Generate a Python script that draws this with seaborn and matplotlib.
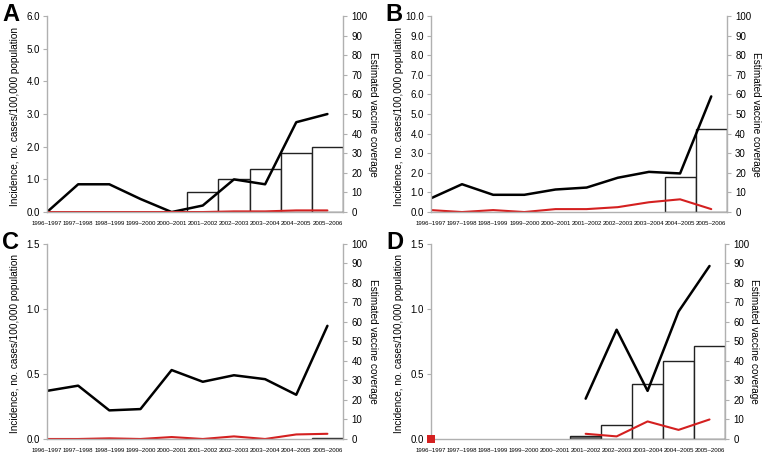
import numpy as np
import pandas as pd
import matplotlib.pyplot as plt
import seaborn as sns

# --- Data ---
seasons = ["1996–1997", "1997–1998", "1998–1999", "1999–2000", "2000–2001",
           "2001–2002", "2002–2003", "2003–2004", "2004–2005", "2005–2006"]
nan = np.nan

a_black = [0.0, 0.85, 0.85, 0.40, 0.0, 0.20, 1.00, 0.85, 2.75, 3.0]
a_red = [0.0, 0.0, 0.0, 0.0, 0.0, 0.0, 0.02, 0.02, 0.05, 0.05]
a_cov = [0, 0, 0, 0, 0, 10, 17, 22, 30, 33]

b_black = [0.70, 1.42, 0.88, 0.88, 1.15, 1.25, 1.75, 2.05, 1.97, 5.90]
b_red = [0.10, 0.0, 0.10, 0.0, 0.15, 0.15, 0.25, 0.50, 0.65, 0.15]
b_cov = [0, 0, 0, 0, 0, 0, 0, 0, 18, 42.5]

c_black = [0.37, 0.41, 0.22, 0.23, 0.53, 0.44, 0.49, 0.46, 0.34, 0.87]
c_red = [0.0, 0.0, 0.005, 0.0, 0.015, 0.0, 0.02, 0.0, 0.035, 0.04]
c_cov = [0, 0, 0, 0, 0, 0, 0, 0, 0, 0.3]

d_black = [nan, nan, nan, nan, nan, 0.31, 0.84, 0.37, 0.98, 1.33]
d_red = [nan, nan, nan, nan, nan, 0.04, 0.02, 0.135, 0.07, 0.15]
d_cov = [0, 0, 0, 0, 0, 1.5, 7, 28, 40, 47.5]
d_red_point = [0.0]  # single red marker at 1996-1997

panels = [
    ("A", a_black, a_red, a_cov, (0, 6), 1.0),
    ("B", b_black, b_red, b_cov, (0, 10), 1.0),
    ("C", c_black, c_red, c_cov, (0, 1.5), 0.5),
    ("D", d_black, d_red, d_cov, (0, 1.5), 0.5),
]
boxes = [
    [0.0612, 0.537, 0.3854, 0.428],
    [0.561, 0.537, 0.3854, 0.428],
    [0.0612, 0.0415, 0.3854, 0.426],
    [0.561, 0.0415, 0.3830, 0.426],
]

sns.set_style("white")
plt.rcParams["font.family"] = ["Liberation Sans", "DejaVu Sans"]
plt.rcParams["text.color"] = "black"
plt.rcParams["axes.labelcolor"] = "black"
plt.rcParams["xtick.color"] = "black"
plt.rcParams["ytick.color"] = "black"

fig = plt.figure(figsize=(7.68, 4.58), dpi=100)
pos = np.arange(len(seasons))
grey = "#b0b0b0"

for (letter, black, red, cov, ylim, step), box in zip(panels, boxes):
    ax = fig.add_axes(box)          # incidence (left)
    ax2 = ax.twinx()                # coverage (right)
    # keep lines in front of the bars
    ax.set_zorder(ax2.get_zorder() + 1)
    ax.patch.set_visible(False)

    df = pd.DataFrame({"season": seasons, "pos": pos, "black": black,
                       "red": red, "cov": cov})

    face = ["white"] * len(seasons)
    if letter == "D":
        face[5] = "#6b6b6b"
    sns.barplot(data=df, x="season", y="cov", order=seasons, width=1.0,
                palette=face, hue="season", legend=False,
                edgecolor="#222222", linewidth=1.0, ax=ax2)
    for p, c in zip(ax2.patches, cov):
        if c == 0:
            p.set_visible(False)

    sns.lineplot(data=df, x="pos", y="black", color="black", lw=1.8, ax=ax)
    sns.lineplot(data=df, x="pos", y="red", color="#d42020", lw=1.5, ax=ax)
    if letter == "D":
        sns.scatterplot(x=[0], y=d_red_point, marker="s", s=28,
                        color="#d42020", edgecolor="none", clip_on=False,
                        zorder=5, ax=ax)

    ax.set_xlim(0, len(seasons) - 0.5)
    ax2.set_xlim(0, len(seasons) - 0.5)
    ax.set_ylim(*ylim)
    ax2.set_ylim(0, 100)
    ax.set_yticks(np.arange(ylim[0], ylim[1] + step / 2, step))
    ax.set_yticklabels([f"{v:.1f}" for v in ax.get_yticks()], fontsize=7)
    ax2.set_yticks(range(0, 101, 10))
    ax2.set_yticklabels([str(v) for v in range(0, 101, 10)], fontsize=7)
    ax.set_xticks(pos)
    ax.set_xticklabels(seasons, fontsize=4.4)
    ax2.tick_params(axis="x", bottom=False, labelbottom=False)

    ax.tick_params(axis="y", left=True, length=3, color=grey, pad=2)
    ax.tick_params(axis="x", bottom=False, pad=3)
    ax2.tick_params(axis="y", right=True, length=3, color=grey, pad=3)

    for a in (ax, ax2):
        a.spines["top"].set_visible(False)
        for s in ("left", "right", "bottom"):
            a.spines[s].set_color(grey)
            a.spines[s].set_linewidth(1.0)
    ax.spines["right"].set_visible(False)
    ax2.spines["left"].set_visible(False)
    ax2.spines["bottom"].set_visible(False)

    ax.set_xlabel("")
    ax2.set_xlabel("")
    ax.set_ylabel("Incidence, no. cases/100,000 population", fontsize=7.2)
    ax2.set_ylabel("Estimated vaccine coverage", fontsize=7.2, rotation=270)
    ax.yaxis.set_label_coords(-0.108, 0.49)
    ax2.yaxis.set_label_coords(1.10, 0.5)
    ax2.yaxis.label.set_va("center")
    ax.yaxis.label.set_va("center")

    ax.text(-0.152, 1.065, letter, transform=ax.transAxes, fontsize=17,
            fontweight="heavy", va="top", ha="left", color="black")

plt.savefig("out.png", dpi=100)
